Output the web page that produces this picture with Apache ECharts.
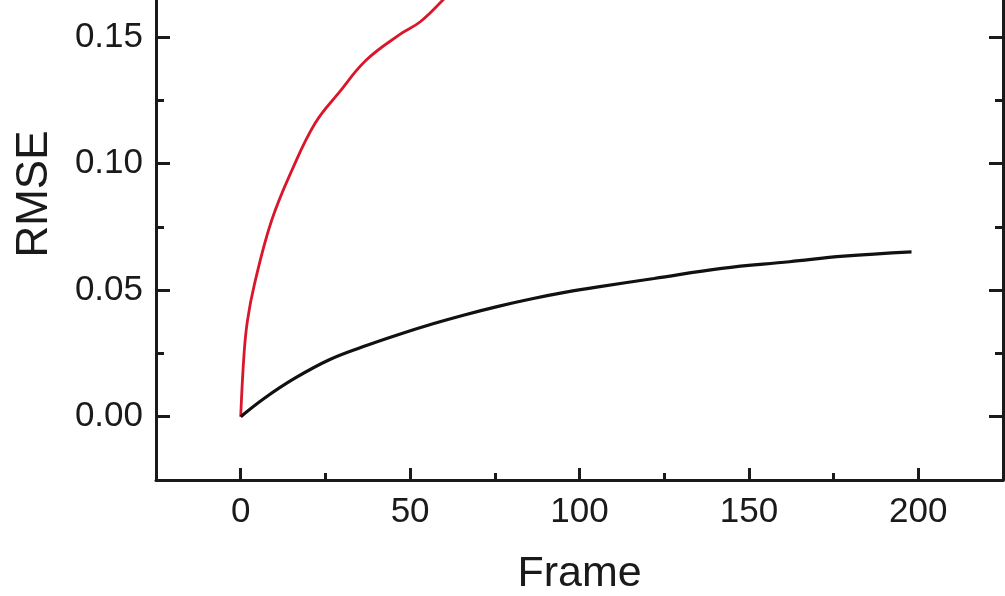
<!DOCTYPE html>
<html>
<head>
<meta charset="utf-8">
<script src="https://cdn.jsdelivr.net/npm/echarts@6/dist/echarts.min.js"></script>
<style>
  html, body { margin: 0; padding: 0; background: #fff; }
  #chart { width: 1005px; height: 596px; }
</style>
</head>
<body>
<div id="chart"></div>
<script>
// RMSE growth over frames for two runs
const frameBlack = [0, 7, 16, 26, 36, 46, 57, 66, 76, 86, 96, 106, 122, 142, 162, 178, 198];
const rmseBlack  = [0, 0.0073, 0.0152, 0.0224, 0.0276, 0.0322, 0.0368, 0.0402, 0.0436, 0.0466, 0.0492, 0.0514, 0.0546, 0.0586, 0.0612, 0.0634, 0.0651];

const frameRed = [0, 1, 2, 4, 9, 15, 22, 29, 37, 47, 53, 60, 66];
const rmseRed  = [0, 0.025, 0.038, 0.052, 0.077, 0.097, 0.116, 0.128, 0.1408, 0.151, 0.156, 0.165, 0.173];

// Axis ticks
const xMajor = [0, 50, 100, 150, 200];
const xMinor = [25, 75, 125, 175];
const yMajor = [0, 0.05, 0.10, 0.15];
const yMinor = [0.025, 0.075, 0.125];
const yLabels = [0, 0.05, 0.10, 0.15];

const FONT = "'Liberation Sans', Arial, sans-serif";
const INK = '#1a1a1a';

const pairs = (xs, ys) => xs.map((x, i) => [x, ys[i]]);

// visible window of the plot
const xRange = { min: -25, max: 225 };
const yRange = { min: -0.025, max: 0.1646 };

function tickAxis(base, values, len, showLine) {
  return Object.assign({
    type: 'value',
    axisLine: { show: showLine, onZero: false, lineStyle: { color: INK, width: 3 } },
    axisTick: { show: true, inside: true, length: len, customValues: values, lineStyle: { color: INK, width: 3 } },
    axisLabel: { show: false },
    splitLine: { show: false }
  }, base);
}

const chart = echarts.init(document.getElementById('chart'), null, { renderer: 'canvas' });

chart.setOption({
  animation: false,
  backgroundColor: '#fff',
  grid: { left: 156, right: 2, top: 0, bottom: 116, containLabel: false, outerBoundsMode: 'none' },
  xAxis: [
    Object.assign(tickAxis(Object.assign({ position: 'bottom' }, xRange), xMajor, 12, true), {
      name: 'Frame',
      nameLocation: 'middle',
      nameGap: 73,
      nameTextStyle: { fontFamily: FONT, fontSize: 43, color: INK },
      axisLabel: {
        show: true, customValues: xMajor, margin: 15,
        fontFamily: FONT, fontSize: 35, color: INK
      }
    }),
    tickAxis(Object.assign({ position: 'bottom' }, xRange), xMinor, 7, false)
  ],
  yAxis: [
    Object.assign(tickAxis(Object.assign({ position: 'left' }, yRange), yMajor, 14, true), {
      name: 'RMSE',
      nameLocation: 'middle',
      nameGap: 99,
      nameTextStyle: { fontFamily: FONT, fontSize: 44, color: INK, padding: [0, 0, 0, 92] },
      axisLabel: {
        show: true, customValues: yLabels, margin: 13,
        fontFamily: FONT, fontSize: 35, color: INK,
        formatter: v => v.toFixed(2)
      }
    }),
    tickAxis(Object.assign({ position: 'left' }, yRange), yMinor, 8, false),
    tickAxis(Object.assign({ position: 'right' }, yRange), yMajor, 14, true),
    tickAxis(Object.assign({ position: 'right' }, yRange), yMinor, 8, false)
  ],
  series: [
    {
      type: 'line',
      name: 'black',
      xAxisIndex: 0, yAxisIndex: 0,
      data: pairs(frameBlack, rmseBlack),
      showSymbol: false,
      smooth: 0.4,
      lineStyle: { color: '#111', width: 3.2 },
      z: 3
    },
    {
      type: 'line',
      name: 'red',
      xAxisIndex: 0, yAxisIndex: 0,
      data: pairs(frameRed, rmseRed),
      showSymbol: false,
      smooth: 0.4,
      lineStyle: { color: '#d9162b', width: 2.8 },
      z: 2
    }
  ]
});
</script>
</body>
</html>
